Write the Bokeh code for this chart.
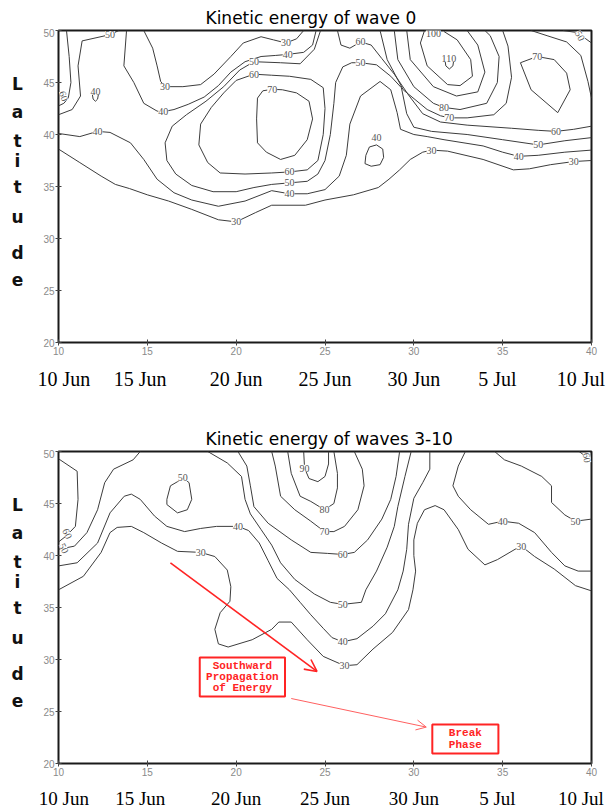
from bokeh.plotting import figure
from bokeh.models import (ColumnDataSource, LabelSet, Label, FixedTicker, Range1d,
                          Arrow, OpenHead, BoxAnnotation)
from bokeh.layouts import column, row
from bokeh.embed import file_html
from bokeh.resources import INLINE
from bokeh.core.properties import value

# ---------------- axes / text data ----------------
DAY_TICKS = [10, 15, 20, 25, 30, 35, 40]
LAT_TICKS = [20, 25, 30, 35, 40, 45, 50]
DATE_LABELS = ["10 Jun", "15 Jun", "20 Jun", "25 Jun", "30 Jun", "5 Jul", "10 Jul"]
DATE_LABEL_DAY = [10.3, 14.6, 20.0, 25.0, 30.0, 34.7, 39.4]
YLABEL_LETTERS = list("Latitude")
TITLE_W0 = "Kinetic energy of wave 0"
TITLE_W3 = "Kinetic energy of waves 3-10"

# ---------------- wave 0 contour paths (day, latitude) ----------------
W0_30 = [
    [(14.8, 50), (15.3, 48.3), (15.55, 46.6), (15.75, 45.1), (16.0, 44.6), (17.0, 44.6), (18.0, 44.8),
     (18.75, 45.8), (19.7, 47.5), (20.4, 48.8), (21.4, 49.4), (22.1, 49.1), (22.8, 48.8), (23.4, 49.2), (23.8, 50)],
    [(10, 38.6), (11.2, 37.3), (12.4, 36.0), (13.2, 35.2), (14, 34.8), (15, 34.2), (16.2, 33.6), (17.5, 32.8),
     (19, 31.8), (20, 31.6), (21.1, 32.5), (22, 33.2), (23.9, 33.2), (25, 33.7), (26.6, 34.2), (28, 34.9),
     (28.6, 35.7), (29.2, 36.6), (29.8, 37.6), (30.5, 38.3), (31.0, 38.5), (31.9, 38.4), (33.9, 37.6),
     (35.6, 36.6), (36.5, 36.7), (37.7, 37.1), (39, 37.4), (40, 37.5)],
]
W0_40 = [
    [(13.83, 50), (13.68, 46.6), (14.24, 45.0), (14.8, 43.0), (15.55, 42.25), (15.9, 42.2), (16.5, 42.4),
     (17.3, 42.9), (18.2, 43.6), (19.0, 44.7), (19.7, 46.0), (20.5, 47.0), (21.4, 47.5), (22.2, 47.6),
     (22.9, 47.7), (23.8, 47.9), (24.3, 48.6), (24.5, 50)],
    [(10, 40.1), (11.2, 39.8), (12.2, 40.3), (12.9, 40.2), (14.05, 39.2), (14.8, 37.6), (15.55, 35.7),
     (16.5, 34.4), (17.5, 33.7), (19, 33.1), (20.5, 33.6), (22, 34.6), (23, 34.3), (24, 34.3), (25, 34.7),
     (25.8, 36), (26.2, 38), (26.4, 41), (27.0, 43.7), (28.1, 45.1), (28.7, 44.3), (29.06, 42.1),
     (29.25, 40.5), (30.0, 40.0), (30.75, 39.8), (31.7, 39.5), (33.9, 38.9), (35.0, 38.3), (35.9, 37.9),
     (37, 38.0), (38.5, 38.3), (40, 38.5)],
    [(11.9, 43.9), (11.95, 43.4), (12.08, 43.2), (12.2, 43.4), (12.25, 43.9)],
    [(27.5, 38.8), (27.9, 39.0), (28.25, 38.6), (28.3, 37.8), (28.1, 37.1), (27.6, 36.95), (27.25, 37.2),
     (27.3, 38.0), (27.5, 38.8)],
]
W0_50 = [
    [(13.4, 50), (12.9, 49.6), (11.33, 49.0), (11.1, 46.6), (11.24, 43.7), (10.77, 42.4), (10, 41.9)],
    [(24.75, 50), (24.4, 48.2), (23.6, 46.8), (22.5, 46.9), (21.0, 47.0), (20.2, 46.2), (19.3, 44.6),
     (18.3, 43.2), (17.2, 41.9), (16.4, 40.8), (16.0, 39.2), (16.1, 37.5), (16.6, 36.2), (17.5, 35.1),
     (18.7, 34.5), (20.0, 34.5), (21, 34.9), (22, 35.2), (23, 35.35), (24, 35.5), (24.6, 36.2), (25.0, 37.5),
     (25.3, 40), (25.5, 43), (25.6, 45), (26.0, 46.5), (26.5, 46.9), (27, 46.9), (27.9, 46.7), (28.7, 45.6),
     (29.3, 44.5), (29.6, 42), (30.0, 40.7), (31, 40.3), (33, 40.0), (35, 39.5), (37, 39.0), (38.5, 39.4),
     (40, 39.7)],
    [(38.4, 50), (39.2, 49.8), (40, 48.8)],
]
W0_60 = [
    [(10.45, 50), (10.6, 47.5), (10.7, 45), (10.55, 43.5), (10.3, 43.0), (10, 42.75)],
    [(21.0, 45.8), (20.0, 45.2), (19.3, 44.0), (18.6, 42.6), (18.0, 41.0), (17.9, 39), (18.4, 37.3),
     (19.1, 36.3), (20.5, 36.2), (22, 36.3), (23, 36.4), (24, 36.6), (24.6, 37.5), (24.9, 40), (25.0, 42.5),
     (24.9, 44.5), (24.2, 45.3), (23, 45.6), (22, 45.7), (21.0, 45.8)],
    [(25.7, 50), (25.9, 48.6), (26.4, 48.3), (27.0, 48.9), (27.6, 48.6), (28.2, 47.3), (28.9, 45.8),
     (29.7, 43.8), (30.5, 42.0), (31.5, 41.2), (33, 40.9), (35.5, 40.6), (37.0, 40.4), (38.0, 40.3),
     (39, 40.5), (40, 40.8)],
    [(36.6, 50), (37.5, 49.5), (38.6, 48.9), (39.4, 47.6), (39.8, 45.1), (40, 43.5)],
]
W0_70 = [
    [(22.03, 44.35), (21.5, 44.2), (21.2, 43.5), (21.15, 41.5), (21.2, 39.2), (21.7, 38.3), (22.5, 37.6),
     (23.3, 38.0), (24.0, 39.5), (24.3, 41.5), (24.1, 43.2), (23.4, 44.0), (22.6, 44.3), (22.03, 44.35)],
    [(28.1, 50), (28.5, 47.2), (29.4, 44.3), (30.75, 42.4), (31.5, 41.8), (32.0, 41.6), (33.0, 41.6),
     (34.5, 41.9), (35.2, 43.0), (35.5, 45.5), (35.3, 48.5), (35.0, 50)],
    [(36.94, 47.5), (36.0, 46.9), (36.6, 44.3), (38.1, 42.1), (38.8, 44.3), (38.6, 45.9), (37.9, 47.2),
     (36.94, 47.5)],
]
W0_80 = [[(28.9, 50), (29.1, 47.2), (30.0, 44.6), (31.1, 43.0), (31.7, 42.6), (32.6, 42.4), (34.1, 43.0),
          (34.7, 45.0), (34.8, 47.5), (34.3, 49.5), (34.0, 50)]]
W0_90 = [[(29.6, 50), (29.8, 47.2), (31.1, 44.6), (32.4, 43.7), (33.6, 44.1), (34.0, 46.0), (33.6, 48.6),
          (33.0, 50)]]
W0_100 = [[(30.6, 50), (30.37, 48.8), (30.75, 46.6), (31.9, 44.8), (32.6, 44.7), (33.3, 45.6), (33.2, 47.2),
           (32.44, 49.1), (31.7, 49.9)]]
W0_110 = [[(31.75, 47.2), (31.8, 46.6), (32.0, 46.3), (32.2, 46.6), (32.25, 47.2)]]

W0_LBL_TEXT = ["50", "60", "40", "40", "30", "40", "30", "40", "50", "60", "70", "60", "50", "40", "30",
               "60", "50", "100", "110", "80", "70", "40", "30", "70", "60", "50", "40", "30", "50"]
W0_LBL_DAY = [12.9, 10.3, 12.08, 12.2, 16.0, 15.9, 22.8, 22.9, 21.0, 21.0, 22.03, 23.0, 23.0, 23.0, 20.0,
              27.0, 27.0, 31.1, 31.97, 31.7, 32.0, 27.9, 31.0, 36.94, 38.0, 37.0, 35.9, 39.0, 39.35]
W0_LBL_LAT = [49.6, 43.7, 44.15, 40.3, 44.6, 42.2, 48.8, 47.7, 47.0, 45.8, 44.35, 36.4, 35.35, 34.3, 31.6,
              48.9, 46.9, 49.7, 47.3, 42.6, 41.6, 39.7, 38.5, 47.5, 40.3, 39.0, 37.9, 37.4, 49.5]
W0_LBL_ANGLE = [0, -70, 0, 0, 0, 0, 0, 0, 0, 0, 0, 0, 0, 0, 0,
                0, 0, 0, 0, 0, 0, 0, 0, 0, 0, 0, 0, 0, -60]

# ---------------- waves 3-10 contour paths ----------------
W3_30 = [
    [(10, 36.7), (11.4, 38.0), (12.4, 40.3), (12.9, 42.2), (13.3, 42.7), (14.1, 42.8), (14.8, 42.2),
     (15.8, 41.2), (16.7, 40.4), (18.0, 40.3), (18.8, 39.9), (19.5, 38.6), (19.7, 37.0), (19.65, 35.6),
     (19.1, 34.5), (18.8, 32.9), (19.0, 31.5), (19.55, 31.2), (20.9, 31.9), (22.0, 32.9), (22.4, 33.6),
     (23.1, 33.6), (24.0, 31.9), (24.9, 30.3), (26.1, 29.4), (26.8, 29.5), (27.7, 31.0), (28.8, 32.6),
     (29.7, 34.8), (29.95, 36.7), (30.1, 38.5), (30.0, 40.0), (30.0, 41.5), (30.2, 43.1), (30.6, 44.4),
     (31.2, 44.8), (31.7, 44.4), (32.5, 42.5), (33.05, 40.6), (34.0, 39.1), (34.7, 39.6), (35.7, 40.6),
     (36.05, 40.9), (36.8, 39.9), (37.9, 38.7), (39.1, 37.1), (40, 36.6)],
]
W3_40 = [
    [(10, 39.0), (11.05, 39.3), (12.2, 41.2), (12.9, 44.1), (13.7, 45.7), (14.1, 45.9), (14.6, 45.4),
     (15.4, 43.8), (16.1, 42.8), (17.1, 42.3), (18.0, 42.6), (18.9, 42.8), (20.1, 42.8), (20.7, 42.4),
     (21.3, 41.2), (21.8, 39.5), (22.3, 37.8), (23.0, 36.7), (23.6, 35.5), (24.2, 34.3), (24.9, 33.0),
     (25.4, 32.1), (26.0, 31.7), (26.8, 32.0), (27.7, 33.2), (28.4, 34.4), (29.1, 36.7), (29.4, 38.5),
     (29.6, 40.6), (29.7, 43.0), (30.0, 45.5), (30.5, 47.0), (30.9, 48.3), (30.9, 50)],
    [(32.9, 50), (32.5, 48.6), (32.2, 46.7), (32.5, 45.7), (33.2, 44.4), (34.2, 43.0), (35.0, 43.3),
     (35.9, 43.1), (36.8, 42.2), (37.75, 40.3), (38.5, 39.0), (39.25, 38.5), (40, 38.5)],
]
W3_50 = [
    [(14.6, 50), (14.2, 49.2), (13.1, 48.3), (12.6, 47.0), (12.2, 44.4), (11.6, 42.2), (10.9, 40.9), (10, 40.6)],
    [(17.0, 47.5), (17.35, 47.0), (17.5, 45.4), (17.25, 44.4), (16.7, 44.1), (16.1, 44.9), (16.1, 45.4),
     (16.3, 46.7), (16.7, 47.1), (17.0, 47.5)],
    [(18.4, 50), (19.5, 48.9), (20.3, 47.6), (20.5, 45.4), (20.8, 44.0), (21.4, 42.5), (22.0, 41.0),
     (22.5, 39.3), (23.3, 37.7), (24.4, 36.3), (25.3, 35.5), (26.0, 35.3), (27.05, 35.5), (27.3, 36.7),
     (27.9, 38.5), (28.5, 40.8), (28.9, 42.8), (29.1, 44.7), (29.5, 47.6), (29.85, 50)],
    [(34.55, 50), (35.1, 49.2), (36.05, 48.6), (37.2, 47.6), (37.75, 46.7), (37.75, 45.1), (38.5, 43.9),
     (39.1, 43.3), (40, 43.5)],
]
W3_60 = [
    [(10, 49.3), (11.05, 48.1), (11.1, 45.4), (10.95, 42.8), (10.45, 41.9), (10, 41.3)],
    [(20.1, 50), (20.6, 48.6), (20.8, 46.7), (21.0, 44.7), (21.8, 43.1), (23.1, 41.5), (24.2, 40.3),
     (25.15, 40.2), (26.0, 40.1), (26.65, 40.3), (27.4, 41.5), (28.2, 43.5), (28.7, 45.4), (29.0, 47.6),
     (29.2, 50)],
    [(39.3, 50), (39.7, 49.5), (40, 49.0)],
]
W3_70 = [[(22.0, 50), (22.2, 48.6), (22.5, 45.7), (23.3, 44.4), (24.2, 43.3), (24.97, 42.3), (25.5, 42.3),
          (26.1, 42.8), (26.85, 44.4), (27.2, 46.7), (27.1, 48.3), (26.65, 50)]]
W3_80 = [[(22.9, 50), (23.1, 47.9), (23.6, 45.7), (24.2, 45.2), (24.97, 44.4), (25.5, 45.0), (25.7, 46.5),
          (25.7, 47.9), (25.5, 50)]]
W3_90 = [[(23.8, 50), (23.85, 48.4), (24.1, 47.4), (24.6, 47.1), (25.0, 47.6), (25.2, 48.8), (25.2, 50)]]

W3_LBL_TEXT = ["60", "50", "50", "40", "30", "90", "80", "70", "60", "50", "40", "30", "40", "30", "50", "60"]
W3_LBL_DAY = [10.5, 10.3, 17.0, 20.1, 18.0, 23.85, 24.97, 24.97, 26.0, 26.0, 26.0, 26.1, 35.0, 36.05, 39.1, 39.75]
W3_LBL_LAT = [42.1, 40.7, 47.5, 42.8, 40.3, 48.4, 44.4, 42.3, 40.1, 35.3, 31.7, 29.4, 43.3, 40.9, 43.3, 49.4]
W3_LBL_ANGLE = [-65, -65, 0, 0, 0, 0, 0, 0, 0, 0, 0, 0, 0, 0, 0, -80]

# ---------------- red annotations (waves 3-10 panel) ----------------
ARROW1 = (16.3, 39.3, 24.55, 28.85)
ARROW2 = (23.1, 26.25, 30.7, 23.5)
BOX1 = (17.95, 22.75, 30.2, 26.45)
BOX1_TEXT = ["Southward", "Propagation", "of Energy"]
BOX2 = (31.04, 34.76, 23.75, 20.96)
BOX2_TEXT = ["Break", "Phase"]

# ---------------- layout constants (pixels) ----------------
FRAME_W, FRAME_H = 533, 312
B_LEFT, B_RIGHT, B_TOP, B_BOTTOM = 20, 17, 2, 24
LETTER_W = 38
TOTAL_W = LETTER_W + B_LEFT + FRAME_W + B_RIGHT
PX_PER_LAT = FRAME_H / 30.0
PX_PER_DAY = FRAME_W / 30.0
LETTER_OFFS = [53, 81, 110, 130, 156, 186, 222, 249]
LINE_COLOR = "#3c3c3c"
RED = "#ff2424"


def flatten(paths):
    xs = [[pt[0] for pt in path] for path in paths]
    ys = [[pt[1] for pt in path] for path in paths]
    return xs, ys


def strip(width, height, xr, yr):
    s = figure(width=width, height=height, x_range=xr, y_range=yr, output_backend="svg",
               toolbar_location=None, x_axis_type=None, y_axis_type=None, title=None,
               min_border_left=0, min_border_right=0, min_border_top=0, min_border_bottom=0)
    s.outline_line_color = None
    s.background_fill_color = "white"
    s.border_fill_color = "white"
    return s


def title_strip(height, text, mid_from_bottom):
    s = strip(TOTAL_W, height, Range1d(0, TOTAL_W), Range1d(0, height))
    s.text(x=[205], y=[mid_from_bottom], text=[text], text_font=value("DejaVu Sans"),
           text_font_size=value("17px"), text_color="black", text_align="left",
           text_baseline="middle")
    return s


def date_strip(height, mid_from_bottom, size):
    x0 = 10 - (LETTER_W + B_LEFT) / PX_PER_DAY
    x1 = 40 + B_RIGHT / PX_PER_DAY
    s = strip(TOTAL_W, height, Range1d(x0, x1), Range1d(0, height))
    s.text(x=DATE_LABEL_DAY, y=[mid_from_bottom] * len(DATE_LABELS), text=DATE_LABELS,
           text_font=value("Liberation Serif"), text_font_size=value(size), text_color="black",
           text_align="center", text_baseline="middle")
    return s


def letter_strip():
    s = figure(width=LETTER_W, height=B_TOP + FRAME_H + B_BOTTOM, x_range=Range1d(0, LETTER_W),
               y_range=Range1d(20, 50), output_backend="svg", toolbar_location=None,
               x_axis_type=None, y_axis_type=None, title=None, min_border_left=0, min_border_right=0,
               min_border_top=B_TOP, min_border_bottom=B_BOTTOM)
    s.outline_line_color = None
    s.background_fill_color = "white"
    s.border_fill_color = "white"
    s.text(x=[17] * len(YLABEL_LETTERS), y=[50 - o / PX_PER_LAT for o in LETTER_OFFS],
           text=YLABEL_LETTERS, text_font=value("DejaVu Sans"), text_font_style="bold",
           text_font_size=value("17px"), text_color="#111111", text_align="center",
           text_baseline="middle")
    return s


def main_fig(levels, lbl):
    p = figure(width=B_LEFT + FRAME_W + B_RIGHT, height=B_TOP + FRAME_H + B_BOTTOM,
               x_range=Range1d(10, 40), y_range=Range1d(20, 50), title=None,
               output_backend="svg", toolbar_location=None,
               min_border_left=B_LEFT, min_border_right=B_RIGHT, min_border_top=B_TOP,
               min_border_bottom=B_BOTTOM)
    p.xgrid.visible = False
    p.ygrid.visible = False
    p.outline_line_color = "#1a1a1a"
    p.outline_line_width = 2
    p.background_fill_color = "white"
    p.border_fill_color = "white"
    for ax, ticks in ((p.xaxis, DAY_TICKS), (p.yaxis, LAT_TICKS)):
        ax.ticker = FixedTicker(ticks=ticks)
        ax.axis_line_color = None
        ax.major_tick_in = 3
        ax.major_tick_out = 3
        ax.major_tick_line_color = "#444444"
        ax.minor_tick_line_color = None
        ax.major_label_text_font = "Liberation Sans"
        ax.major_label_text_font_size = "10px"
        ax.major_label_text_color = "#8a8a8a"
        ax.major_label_standoff = 1

    for lev_paths in levels:
        xs, ys = flatten(lev_paths)
        p.multi_line(xs, ys, line_color=LINE_COLOR, line_width=1)

    src = ColumnDataSource(dict(x=lbl[0], y=lbl[1], t=lbl[2], a=[v * 3.14159265 / 180 for v in lbl[3]]))
    p.add_layout(LabelSet(x="x", y="y", text="t", angle="a", source=src, text_align="center",
                          text_baseline="middle", text_font_size="10px", text_font="Liberation Sans",
                          text_color="#555555", background_fill_color="white"))
    return p


# page rows (no body margin): title 0..28, plot 28..366, dates 366..394,
# title 394..449, plot 449..787, dates 787..808
t1 = title_strip(28, TITLE_W0, 11)
p1 = main_fig([W0_30, W0_40, W0_50, W0_60, W0_70, W0_80, W0_90, W0_100, W0_110],
              (W0_LBL_DAY, W0_LBL_LAT, W0_LBL_TEXT, W0_LBL_ANGLE))
d1 = date_strip(28, 16, "20px")
t2 = title_strip(55, TITLE_W3, 11)
p2 = main_fig([W3_30, W3_40, W3_50, W3_60, W3_70, W3_80, W3_90],
              (W3_LBL_DAY, W3_LBL_LAT, W3_LBL_TEXT, W3_LBL_ANGLE))
d2 = date_strip(21, 10.5, "19px")

# red annotations
p2.add_layout(Arrow(x_start=ARROW1[0], y_start=ARROW1[1], x_end=ARROW1[2], y_end=ARROW1[3],
                    line_color=RED, line_width=1.6,
                    end=OpenHead(size=12, line_color=RED, line_width=1.6)))
p2.add_layout(Arrow(x_start=ARROW2[0], y_start=ARROW2[1], x_end=ARROW2[2], y_end=ARROW2[3],
                    line_color="#ff6060", line_width=1,
                    end=OpenHead(size=10, line_color="#ff6060", line_width=1)))
for box, lines in ((BOX1, BOX1_TEXT), (BOX2, BOX2_TEXT)):
    p2.add_layout(BoxAnnotation(left=box[0], right=box[1], top=box[2], bottom=box[3],
                                fill_color="white", fill_alpha=1.0, line_color=RED, line_alpha=1.0,
                                line_width=2))
    n = len(lines)
    cx = (box[0] + box[1]) / 2
    cy = (box[2] + box[3]) / 2
    step = 11.3 / PX_PER_LAT
    for i, t in enumerate(lines):
        p2.add_layout(Label(x=cx, y=cy + (n - 1) / 2 * step - i * step, text=t,
                            text_font="Liberation Mono", text_font_style="bold", text_font_size="11px",
                            text_color=RED, text_align="center", text_baseline="middle"))

layout = column(t1, row(letter_strip(), p1), d1, t2, row(letter_strip(), p2), d2)
open("out.html", "w").write(file_html(layout, INLINE))
